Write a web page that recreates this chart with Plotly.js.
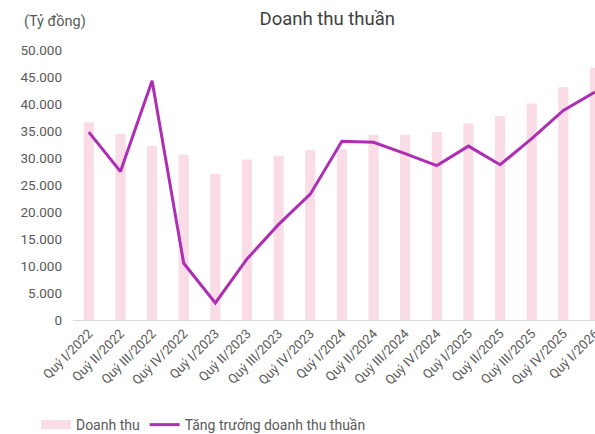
<!DOCTYPE html>
<html><head><meta charset="utf-8">
<script src="https://cdn.plot.ly/plotly-3.0.1.min.js"></script>
<style>body{margin:0;padding:0;background:#fff}#chart{width:595px;height:434px}</style>
</head><body><div id="chart"></div>
<script>
const categories = ["Quý I/2022","Quý II/2022","Quý III/2022","Quý IV/2022","Quý I/2023","Quý II/2023","Quý III/2023","Quý IV/2023","Quý I/2024","Quý II/2024","Quý III/2024","Quý IV/2024","Quý I/2025","Quý II/2025","Quý III/2025","Quý IV/2025","Quý I/2026"];
const doanhThu = [36600,34500,32200,30600,27100,29700,30400,31500,31600,34300,34300,34800,36400,37800,40100,43100,46700];
const tangTruong = [34800,27500,44300,10500,3150,11300,17700,23300,33100,32900,30800,28600,32200,28750,33600,38800,42200];
const FONT = "Roboto, 'Noto Sans', sans-serif";
const BAR_COLOR = "#FADCE6";
const LINE_COLOR = "#AE2EB3";
const traces = [
  {type:"bar", name:"Doanh thu", x:categories, y:doanhThu, width:0.32,
   marker:{color:BAR_COLOR}, hoverinfo:"skip", showlegend:false},
  {type:"scatter", mode:"lines", name:"Doanh thu", x:[null], y:[null],
   line:{color:BAR_COLOR, width:9}, hoverinfo:"skip", showlegend:true},
  {type:"scatter", mode:"lines", name:"Tăng trưởng doanh thu thuần", x:categories, y:tangTruong,
   line:{color:LINE_COLOR, width:3}, hoverinfo:"skip"}
];
const layout = {
  width:595, height:434,
  margin:{l:73, r:0, t:50, b:114, autoexpand:false},
  paper_bgcolor:"#fff", plot_bgcolor:"#fff",
  separators:",.",
  font:{family:FONT, color:"#595959", size:13},
  title:{text:"Doanh thu thuần", x:0.55, xanchor:"center", y:0.957, yanchor:"middle",
         font:{family:FONT, size:18.5, color:"#404040"}},
  xaxis:{type:"category", range:[-0.5,16], showgrid:false, showline:true, linecolor:"#D9D9D9", linewidth:1,
         ticks:"", tickangle:-45, tickfont:{family:FONT, size:13, color:"#595959"}, fixedrange:true},
  yaxis:{range:[0,50000], dtick:5000, tickformat:",.0f", showgrid:false, zeroline:false, showline:false,
         ticks:"", tickfont:{family:FONT, size:13.5, color:"#595959"}, ticklabelstandoff:10, fixedrange:true},
  showlegend:true,
  legend:{orientation:"h", x:-0.071, xanchor:"left", y:-0.389, yanchor:"middle",
          font:{family:FONT, size:14, color:"#595959"}, bgcolor:"rgba(0,0,0,0)"},
  annotations:[{text:"(Tỷ đồng)", xref:"paper", yref:"paper", x:-0.035, y:1.105, xanchor:"center", yanchor:"middle",
                showarrow:false, font:{family:FONT, size:14.5, color:"#595959"}}]
};
Plotly.newPlot("chart", traces, layout, {displayModeBar:false, staticPlot:true});
</script></body></html>
